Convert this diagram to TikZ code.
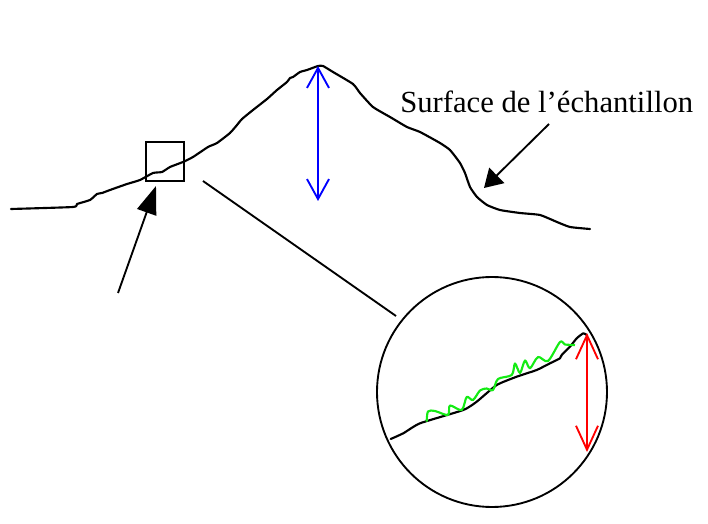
\documentclass[tikz,border=0pt]{standalone}
\usepackage{fontspec}
\setmainfont{Liberation Serif}
\usetikzlibrary{arrows.meta}
\definecolor{rough}{RGB}{20,235,20}
\begin{document}
\begin{tikzpicture}[x=0.75pt,y=-0.75pt,
  profile/.style={line width=1.6pt,line join=round,line cap=round},
  thin/.style={line width=1.4pt},
  barb/.style={line width=1.4pt,{Straight Barb[length=15pt,width=16.5pt]}-{Straight Barb[length=15pt,width=16.5pt]}},
  rbarb/.style={line width=1.4pt,{Straight Barb[length=18pt,width=16.5pt]}-{Straight Barb[length=18pt,width=16.5pt]}},
  pointer/.style={line width=1.4pt,-{Triangle[length=13.5pt,width=16pt]}},
  pointerb/.style={line width=1.4pt,-{Triangle[length=21pt,width=15pt]}}]
\useasboundingbox (0,0) rectangle (708,524);
% main profile
\draw[profile] plot[smooth,tension=0.3] coordinates {
 (11,209) (73,207) (77,204) (90,200) (97,194) (102,193) (110,190) (127,184)
 (140,180) (153,173) (162,172) (170,167) (183,162) (193,157) (208,147)
 (217,143) (230,133) (237,125) (242,119) (253,110) (267,99) (277,90)
 (287,82) (290,78) (293,77) (300,72) (307,70) (318,66) (323,66) (333,72)
 (353,84) (360,93) (373,107) (390,117) (407,127) (420,132) (440,143)
 (450,150) (460,163) (465,173) (470,187) (477,197) (487,205) (500,210)
 (520,213) (540,215) (557,222) (570,227) (590,229)};
% blue arrow
\coordinate (bt) at (318,66);
\coordinate (bb) at (318,201);
\draw[barb,blue] (bt) -- (bb);
% zoom box
\node[draw,thin,minimum width=28.5pt,minimum height=29pt,inner sep=0pt] (box) at (165,161.5) {};
% pointer to box
\coordinate (p1) at (118,293);
\coordinate (p1t) at (156,186);
\draw[pointerb] (p1) -- (p1t);
% label and pointer
\node[anchor=base west,inner sep=0pt,font=\fontsize{23}{27}\selectfont] (lab) at (400,113) {Surface de l’échantillon};
\coordinate (p2) at (549,124);
\coordinate (p2t) at (484,188);
\draw[pointer] (p2) -- (p2t);
% magnifier
\node[draw,thin,circle,minimum size=172.5pt,inner sep=0pt] (lens) at (492,392) {};
\coordinate (c1) at (203,181);
\coordinate (c2) at (396,316);
\draw[thin] (c1) -- (c2);
% inner profile
\draw[profile] plot[smooth,tension=0.3] coordinates {
 (390.7,439) (403.3,433.3) (420,423.3) (463.3,410) (476.7,401.7) (496.7,385)
 (516.7,376.7) (536.7,370) (550,363.3) (560,358.3) (561.7,355) (570,346.7)
 (576.7,338.3) (583.3,333.3) (586.7,335)};
% green roughness
\draw[line width=1.6pt,rough,line join=round] plot[smooth,tension=0.5] coordinates {
 (426.7,421.7) (428,411.5) (435,411) (448,415) (450,405.5) (461.7,410)
 (466.7,397) (473,400) (480,390.5) (486.7,388.5) (493,390) (498,379)
 (511.7,375) (515,363.5) (520,373) (525,360.5) (530,368.3) (538,357)
 (548,361) (560,342) (565,344.5) (575,345)};
% red arrow
\coordinate (rt) at (587,333);
\coordinate (rb) at (587,452);
\draw[rbarb,red] (rt) -- (rb);
\end{tikzpicture}
\end{document}
